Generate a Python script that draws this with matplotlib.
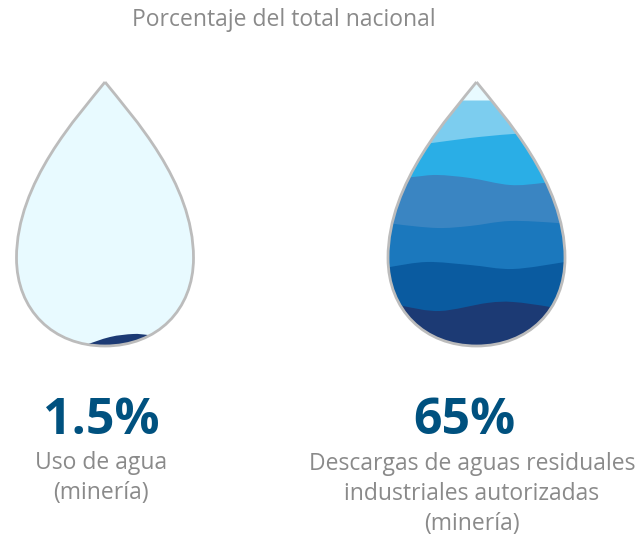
import numpy as np
import matplotlib
matplotlib.use("Agg")
import matplotlib.pyplot as plt
from matplotlib.path import Path
from matplotlib.patches import PathPatch

plt.rcParams['font.family'] = ['Open Sans', 'DejaVu Sans']

# texts
title = "Porcentaje del total nacional"
values = ["1.5%", "65%"]
labels = ["Uso de agua\n(minería)", "Descargas de aguas residuales\nindustriales autorizadas\n(minería)"]

# colours
text_grey = "#8a8a8a"
value_blue = "#00517f"
edge_grey = "#bcbcbc"
light_fill = "#e8faff"
dark_band = "#1c3a74"
band_colors = ["#7ccdef", "#2aaee6", "#3a85c2", "#1b78bd", "#0a5ba0", dark_band]

# wave boundaries of the right drop, top to bottom (pixels)
wave1 = [(430, 100.5), (520, 100.5)]
wave2 = [(400, 146), (432, 143), (470, 138), (513, 134), (560, 132)]
wave3 = [(380, 180), (413, 177), (437, 175), (470, 178), (510, 185), (543, 183), (580, 178)]
wave4 = [(375, 220), (395, 224), (437, 228), (470, 226), (510, 221), (557, 223), (580, 226)]
wave5 = [(375, 270), (390, 267), (427, 262), (470, 265), (513, 269), (565, 262), (580, 259)]
wave6 = [(385, 301), (403, 306), (440, 311), (487, 303), (513, 302), (550, 307), (575, 313)]
right_waves = [wave1, wave2, wave3, wave4, wave5, wave6]

# small dark band of the left drop
left_wave = [(60, 352), (82, 346), (110, 337), (133, 334), (148, 335), (170, 338)]


# Function to build the drop outline around a centre x
def drop_path(cx):
    top = 82
    mid = 258
    bottom = 346
    w = 88.5
    verts = [(cx, top),
             (cx + 27, 116), (cx + w, 182), (cx + w, mid),
             (cx + w, 310), (cx + 52, bottom), (cx, bottom),
             (cx - 52, bottom), (cx - w, 310), (cx - w, mid),
             (cx - w, 182), (cx - 27, 116), (cx, top)]
    codes = [Path.MOVETO] + [Path.CURVE4] * 12
    return Path(verts, codes)


# Function to run a smooth curve through the wave points (catmull-rom as beziers)
def wave_segments(pts):
    pts = np.array(pts, dtype=float)
    verts = []
    for i in range(len(pts) - 1):
        p0 = pts[max(i - 1, 0)]
        p1 = pts[i]
        p2 = pts[i + 1]
        p3 = pts[min(i + 2, len(pts) - 1)]
        verts += [tuple(p1 + (p2 - p0) / 6), tuple(p2 - (p3 - p1) / 6), tuple(p2)]
    return verts


# Function to fill everything below a wave, clipped by the drop
def fill_below(ax, pts, color, clip):
    start = tuple(pts[0])
    curve = wave_segments(pts)
    verts = [start] + curve + [(pts[-1][0], 360), (pts[0][0], 360), start]
    codes = [Path.MOVETO] + [Path.CURVE4] * len(curve) + [Path.LINETO, Path.LINETO, Path.CLOSEPOLY]
    patch = PathPatch(Path(verts, codes), facecolor=color, edgecolor="none", zorder=2)
    ax.add_patch(patch)
    patch.set_clip_path(clip)


fig = plt.figure(figsize=(6.41, 5.36), dpi=100)
ax = fig.add_axes([0, 0, 1, 1])
ax.set_xlim(0, 641)
ax.set_ylim(536, 0)
ax.axis("off")

for cx in [105, 476.5]:
    base = PathPatch(drop_path(cx), facecolor=light_fill, edgecolor="none", zorder=1)
    ax.add_patch(base)
    if cx == 105:
        fill_below(ax, left_wave, dark_band, base)
    else:
        for pts, col in zip(right_waves, band_colors):
            fill_below(ax, pts, col, base)
    ax.add_patch(PathPatch(drop_path(cx), facecolor="none", edgecolor=edge_grey, lw=2, zorder=3, joinstyle="miter"))

ax.text(283.5, 20, title, ha="center", va="center", fontsize=16.5, color=text_grey)

ax.text(101.5, 421, values[0], ha="center", va="center", fontsize=36, fontweight="bold", color=value_blue)
ax.text(464, 421, values[1], ha="center", va="center", fontsize=36, fontweight="bold", color=value_blue)

ax.text(101, 478, labels[0], ha="center", va="center", fontsize=16.5, color=text_grey, linespacing=1.33)
ax.text(472, 494, labels[1], ha="center", va="center", fontsize=16.5, color=text_grey, linespacing=1.33)

fig.savefig("out.png", dpi=100)
